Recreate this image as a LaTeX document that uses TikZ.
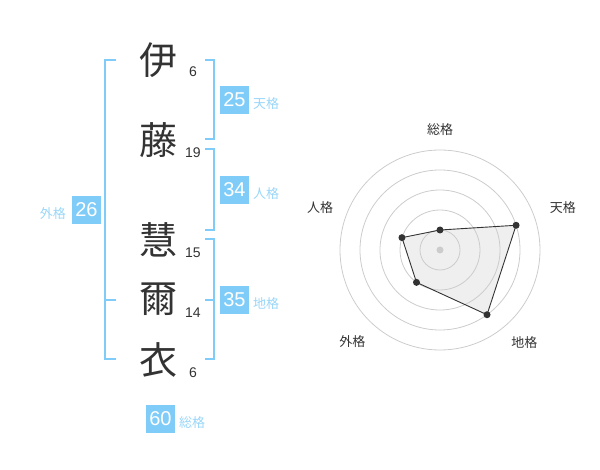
\documentclass[tikz,border=0pt]{standalone}
\usepackage{fontspec}
\setmainfont{Liberation Sans}
\newfontfamily\cjk{Noto Sans CJK JP}

\definecolor{kakublue}{HTML}{80CCF8}
\definecolor{kakulabel}{HTML}{99D6F8}
\definecolor{ringgray}{HTML}{CCCCCC}
\definecolor{chartfill}{HTML}{EFEFEF}
\definecolor{inkgray}{HTML}{333333}

\begin{document}
\begin{tikzpicture}[x=1pt,y=-1pt,
    kanji/.style={font=\cjk\fontsize{38}{38}\selectfont, text=inkgray, inner sep=0},
    strokes/.style={font=\fontsize{14}{14}\selectfont, text=inkgray, inner sep=0},
    kakubox/.style={fill=kakublue, text=white, font=\fontsize{20}{20}\selectfont,
        minimum width=29pt, minimum height=28pt, inner sep=0},
    kakulab/.style={font=\cjk\fontsize{13}{13}\selectfont, text=kakulabel, inner sep=0},
    bracket/.style={kakublue, line width=2pt},
    ring/.style={ringgray, line width=0.8pt},
    axislab/.style={font=\cjk\fontsize{13}{13}\selectfont, text=inkgray, inner sep=0},
    dot/.style={circle, fill=inkgray, inner sep=0, minimum size=7pt}]
    \useasboundingbox (0,0) rectangle (600,470);

    % Name characters and stroke counts
    \node[kanji] (c1) at (158,60) {伊};
    \node[kanji] (c2) at (158,140) {藤};
    \node[kanji] (c3) at (158,240) {慧};
    \node[kanji] (c4) at (158,299) {爾};
    \node[kanji] (c5) at (158,360) {衣};
    \node[strokes] (s1) at (193,72) {6};
    \node[strokes] (s2) at (193,153) {19};
    \node[strokes] (s3) at (193,253) {15};
    \node[strokes] (s4) at (193,313) {14};
    \node[strokes] (s5) at (193,373) {6};

    % Brackets
    \draw[bracket] (116,60) -- (105,60) -- (105,359) -- (116,359);
    \draw[bracket] (105,300) -- (116,300);
    \draw[bracket] (205,60) -- (214,60) -- (214,139) -- (205,139);
    \draw[bracket] (205,149) -- (214,149) -- (214,230) -- (205,230);
    \draw[bracket] (205,239) -- (214,239) -- (214,359) -- (205,359);
    \draw[bracket] (205,300) -- (214,300);

    % Scores
    \node[kakubox] (ten) at (234.5,100) {25};
    \node[kakulab, anchor=west] (tenl) at (253,104) {天格};
    \node[kakubox] (jin) at (234.5,190) {34};
    \node[kakulab, anchor=west] (jinl) at (253,194) {人格};
    \node[kakubox] (chi) at (234.5,300) {35};
    \node[kakulab, anchor=west] (chil) at (253,304) {地格};
    \node[kakubox] (gai) at (86.5,210) {26};
    \node[kakulab, anchor=east] (gail) at (66,214) {外格};
    \node[kakubox] (sou) at (160.5,419) {60};
    \node[kakulab, anchor=west] (soul) at (179,423) {総格};

    % Radar chart
    \begin{scope}[shift={(440,250)}, yscale=-1]
        \coordinate (p1) at (90:20);
        \coordinate (p2) at (18:80);
        \coordinate (p3) at (-54:80);
        \coordinate (p4) at (-126:40);
        \coordinate (p5) at (162:40);
        \fill[chartfill] (p1) -- (p2) -- (p3) -- (p4) -- (p5) -- cycle;
        \foreach \r in {20,40,...,100} {
            \draw[ring] (0,0) circle (\r);
        }
        \fill[ringgray] (0,0) circle (3.5);
        \draw[inkgray, line width=0.9pt] (p1) -- (p2) -- (p3) -- (p4) -- (p5) -- cycle;
        \foreach \p in {1,...,5} {
            \node[dot] (d\p) at (p\p) {};
        }
        \node[axislab] (a1) at (90:120) {総格};
        \node[axislab] (a2) at (19:130) {天格};
        \node[axislab] (a3) at (-47.6:125) {地格};
        \node[axislab] (a4) at (-133.7:127) {外格};
        \node[axislab] (a5) at (160.7:127) {人格};
    \end{scope}
\end{tikzpicture}
\end{document}
